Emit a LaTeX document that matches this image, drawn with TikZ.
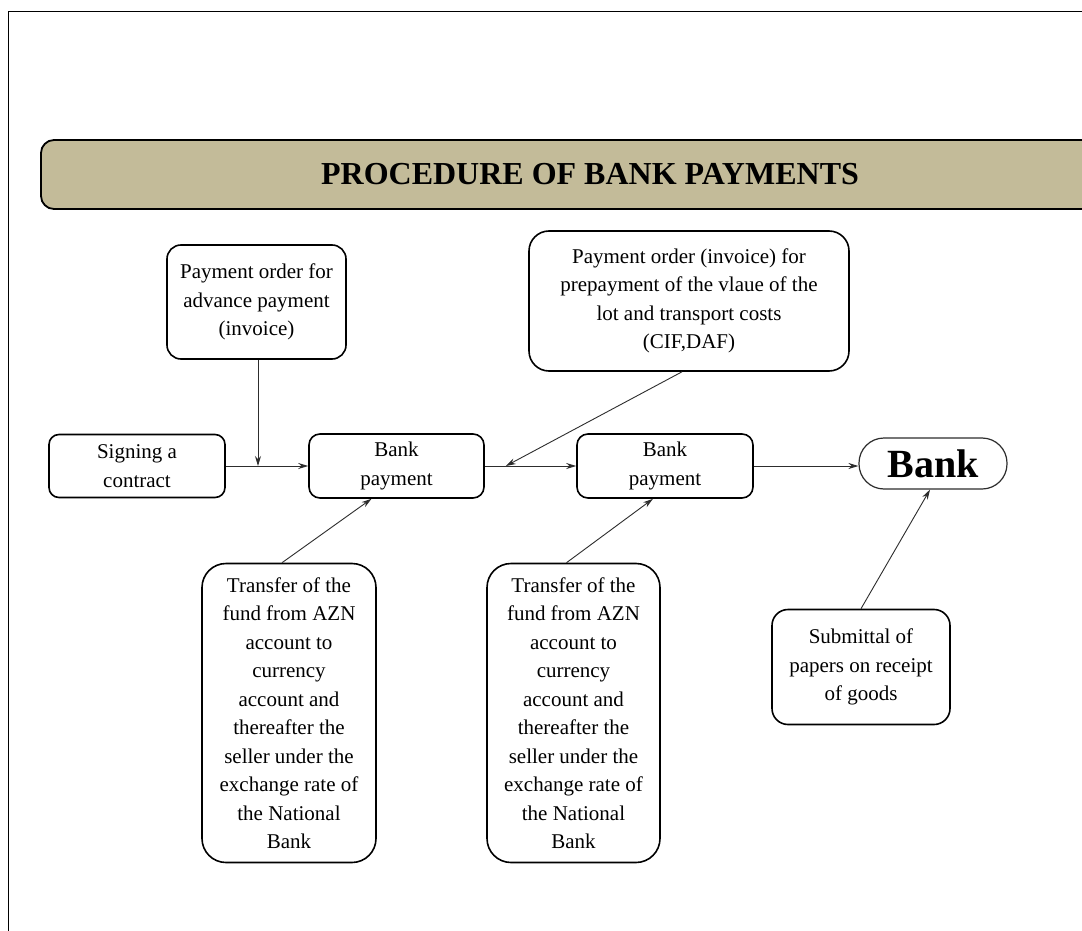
\documentclass[tikz,border=0pt]{standalone}
\usepackage{fontspec}
\setmainfont{Liberation Serif}
\usetikzlibrary{arrows.meta,calc}
\definecolor{banner}{RGB}{195,187,153}
\definecolor{wire}{RGB}{45,45,45}
\begin{document}
\begin{tikzpicture}[x=1pt,y=-1pt,
  box/.style={draw=black,line width=1.6pt,fill=white,rounded corners=#1,
    align=center,inner sep=0pt,font=\fontsize{21}{28.5}\selectfont},
  box/.default=11pt,
  link/.style={draw=wire,line width=0.9pt,-{Stealth[length=10pt,width=6pt]}}]
\useasboundingbox (0,0) rectangle (1082,931);
\clip (0,0) rectangle (1082,931);
\fill[white] (0,0) rectangle (1082,931);

% page frame (top and left edges)
\draw[line width=1pt] (8,931) -- (8,12) -- (1082,12);

% title banner
\node[box=13pt,fill=banner,line width=1.8pt,minimum width=1098pt,minimum height=69pt,
  font=\fontsize{32}{36}\selectfont\bfseries] (title) at (590,174.5)
  {PROCEDURE OF BANK PAYMENTS};

% process boxes
\node[box=10pt,minimum width=176pt,minimum height=63pt] (sign) at (137,466)
  {Signing a\\contract};
\node[box=14pt,minimum width=179pt,minimum height=114pt] (adv) at (256.5,302)
  {Payment order for\\advance payment\\(invoice)};
\node[box=11pt,minimum width=175pt,minimum height=64pt] (bp1) at (396.5,466)
  {Bank\\payment};
\node[box=11pt,minimum width=176pt,minimum height=64pt] (bp2) at (665,466)
  {Bank\\payment};
\node[box=20pt,minimum width=320pt,minimum height=140pt] (inv) at (689,301)
  {Payment order (invoice) for\\prepayment of the vlaue of the\\lot and transport costs\\(CIF,DAF)};
\node[draw=wire,line width=1.2pt,fill=white,rounded corners=25pt,inner sep=0pt,
  minimum width=148pt,minimum height=51pt,font=\fontsize{40}{44}\selectfont\bfseries]
  (bank) at (933,463.5) {Bank};
\node[box=24pt,minimum width=174pt,minimum height=299pt] (tr1) at (289,713)
  {Transfer of the\\fund from AZN\\account to\\currency\\account and\\thereafter the\\seller under the\\exchange rate of\\the National\\Bank};
\node[box=24pt,minimum width=173pt,minimum height=299pt] (tr2) at (573.5,713)
  {Transfer of the\\fund from AZN\\account to\\currency\\account and\\thereafter the\\seller under the\\exchange rate of\\the National\\Bank};
\node[box=16pt,minimum width=178pt,minimum height=115pt] (sub) at (861,667)
  {Submittal of\\papers on receipt\\of goods};

% connectors
\coordinate (j1) at ($(adv.south)+(1.5,0)$);
\coordinate (j2) at ($(bp1.east)!0.23!(bp2.west)$);
\draw[link] (sign.east) -- (sign.east -| bp1.west);
\draw[link] (j1) -- (j1 |- sign.east);
\draw[link] (bp1.east) -- (bp2.west);
\draw[link] ([xshift=-7pt]inv.south) -- (j2);
\draw[link] (bp2.east) -- (bp2.east -| bank.west);
\draw[link] ([xshift=-7pt]tr1.north) -- ([xshift=-25pt]bp1.south);
\draw[link] ([xshift=-7pt]tr2.north) -- ([xshift=-12pt]bp2.south);
\draw[link] (sub.north) -- ([xshift=-3pt]bank.south);
\end{tikzpicture}
\end{document}
